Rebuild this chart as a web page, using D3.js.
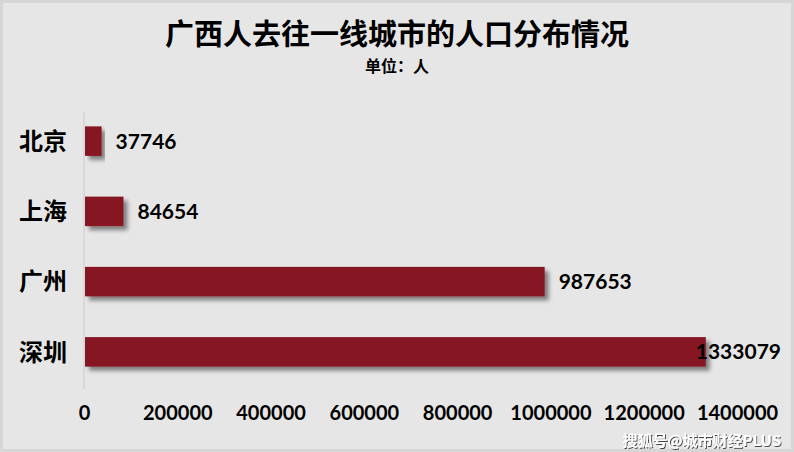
<!DOCTYPE html>
<html><head><meta charset="utf-8">
<script src="https://cdn.jsdelivr.net/npm/d3@7/dist/d3.min.js"></script>
<style>body{margin:0;background:#e7e6e6;}svg{display:block;}</style>
</head><body>
<svg id="c" width="794" height="452"></svg>
<script>
const categories = ["北京", "上海", "广州", "深圳"];
const values = [37746, 84654, 987653, 1333079];
const tickValues = [0, 200000, 400000, 600000, 800000, 1000000, 1200000, 1400000];
const titleText = "广西人去往一线城市的人口分布情况";
const subtitleText = "单位：人";
const watermark = "搜狐号@城市财经PLUS";

const svg = d3.select("#c");
const W = 794, H = 452;
const cjk = "'Noto Sans CJK SC', sans-serif";
const num = "Lato, 'Open Sans', sans-serif";

const defs = svg.append("defs");
const f = defs.append("filter").attr("id","sh").attr("x","-10%").attr("y","-30%").attr("width","130%").attr("height","180%");
f.append("feGaussianBlur").attr("in","SourceAlpha").attr("stdDeviation",2).attr("result","b");
f.append("feOffset").attr("in","b").attr("dx",4).attr("dy",4).attr("result","o");
f.append("feFlood").attr("flood-color","#000").attr("flood-opacity",0.45);
f.append("feComposite").attr("in2","o").attr("operator","in").attr("result","s");
const m = f.append("feMerge"); m.append("feMergeNode").attr("in","s"); m.append("feMergeNode").attr("in","SourceGraphic");

const wf = defs.append("filter").attr("id","wsh");
wf.append("feDropShadow").attr("dx",1).attr("dy",1).attr("stdDeviation",0.6).attr("flood-color","#000").attr("flood-opacity",0.7);

svg.append("rect").attr("x",1.5).attr("y",1.5).attr("width",W-3).attr("height",H-3)
  .attr("fill","#e7e6e6").attr("stroke","#d6d6d6").attr("stroke-width",3);

const x = d3.scaleLinear().domain([0,1400000]).range([84, 737]);
const y = d3.scaleBand().domain(categories).range([106, 387]).paddingInner(0.58).paddingOuter(0.29);

// title
svg.append("text").attr("x",397).attr("y",45).attr("text-anchor","middle")
  .style("font-family",cjk).style("font-weight",700).style("font-size","29px").attr("fill","#000").text(titleText);
svg.append("text").attr("x",397).attr("y",72).attr("text-anchor","middle")
  .style("font-family",cjk).style("font-weight",700).style("font-size","16px").attr("fill","#000").text(subtitleText);

// axis line
svg.append("line").attr("x1",84).attr("x2",84).attr("y1",112).attr("y2",389)
  .attr("stroke","#d4d4d4").attr("stroke-width",1.5);

// bars
svg.selectAll("rect.bar").data(values).enter().append("rect").attr("class","bar")
  .attr("x",x(0)+1).attr("y",(d,i)=>y(categories[i]))
  .attr("width",d=>x(d)-x(0)-1).attr("height",y.bandwidth())
  .attr("fill","#851421").attr("filter","url(#sh)");

// category labels
svg.selectAll("text.cat").data(categories).enter().append("text").attr("class","cat")
  .attr("x",43).attr("y",d=>y(d)+y.bandwidth()/2).attr("dy","0.36em").attr("text-anchor","middle")
  .style("font-family",cjk).style("font-weight",700).style("font-size","24px").attr("fill","#000").text(d=>d);

// value labels
svg.selectAll("text.val").data(values).enter().append("text").attr("class","val")
  .attr("y",(d,i)=>y(categories[i])+y.bandwidth()/2).attr("dy","0.36em")
  .style("font-family",num).style("font-weight",700).style("font-size","21px").attr("fill","#000")
  .text(d=>String(d))
  .each(function(d){
    const w = this.getComputedTextLength();
    let px = x(d)+14;
    if (px + w > 781) px = 781 - w;
    d3.select(this).attr("x",px);
  });

// x axis ticks
const ax = d3.axisBottom(x).tickValues(tickValues).tickSize(0).tickFormat(d=>String(d));
const g = svg.append("g").attr("transform","translate(0,403)").call(ax);
g.select(".domain").remove();
g.selectAll("text").style("font-family",num).style("font-weight",700).style("font-size","20px").attr("fill","#000").attr("dy","0.71em");

// watermark
svg.append("text").attr("x",781).attr("y",446).attr("text-anchor","end")
  .style("font-family",cjk).style("font-weight",700).style("font-size","15px").attr("fill","#fff")
  .attr("filter","url(#wsh)").text(watermark);
</script>
</body></html>
